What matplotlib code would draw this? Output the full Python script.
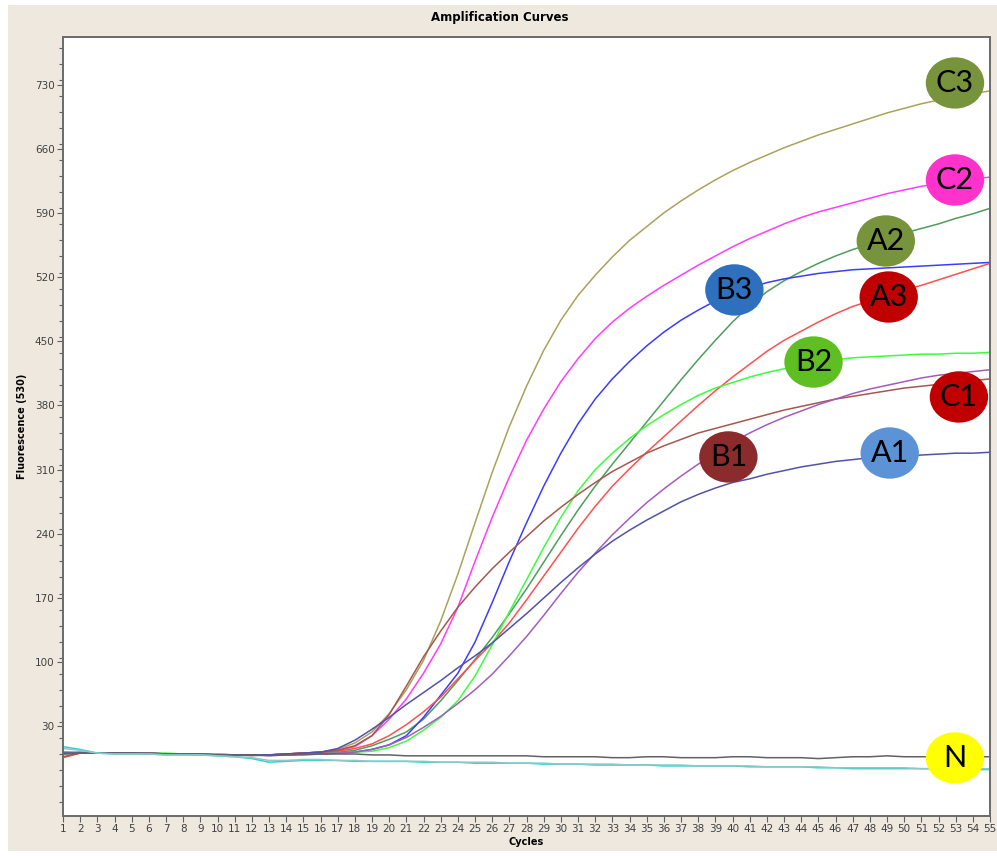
import numpy as np
import matplotlib
matplotlib.use("Agg")
import matplotlib.pyplot as plt
from matplotlib.patches import Ellipse, Rectangle
from matplotlib.ticker import MultipleLocator, FixedLocator

# fluorescence (530) per cycle, cycles 1..55
cycles = np.arange(1, 56)

c3_vals = [2, 2, 1, 1, 1, 0, 0, 0, -1, -1, -1, -2, -1, 0, 1, 2,
           5, 12, 24, 44, 70, 102, 145, 196, 252, 307, 357, 401, 440, 473,
           500, 522, 542, 560, 575, 590, 603, 615, 626, 636, 645, 653, 661,
           668, 675, 681, 687, 693, 699, 704, 709, 713, 717, 720, 723]
c2_vals = [1, 2, 1, 1, 1, 1, 0, 0, 0, -1, -1, -1, -1, 0, 1, 2,
           4, 8, 20, 38, 60, 88, 120, 160, 210, 258, 302, 342, 376, 406,
           431, 453, 471, 486, 499, 511, 522, 533, 543, 553, 562, 570, 578,
           585, 591, 596, 601, 606, 611, 615, 619, 622, 625, 627, 629]
a2_vals = [0, 1, 1, 1, 1, 0, 0, 0, 0, -1, -1, -1, -1, 0, 0, 1,
           2, 4, 9, 16, 24, 38, 58, 80, 103, 127, 153, 180, 209, 238,
           266, 292, 316, 339, 362, 385, 408, 430, 451, 471, 489, 504, 516,
           526, 535, 543, 550, 556, 562, 568, 573, 578, 584, 589, 595]
b3_vals = [2, 1, 1, 1, 1, 1, 0, 0, 0, -1, -1, -1, -1, -1, 0, 0,
           1, 2, 5, 10, 20, 40, 64, 88, 122, 165, 210, 252, 292, 328,
           360, 387, 409, 428, 445, 460, 473, 484, 494, 502, 508, 514, 518,
           521, 524, 526, 528, 529, 530, 531, 532, 533, 534, 535, 536]
a3_vals = [-4, 1, 1, 1, 1, 1, 0, 0, 0, 0, -1, -1, -1, 0, 1, 2,
           3, 6, 11, 20, 32, 46, 62, 82, 102, 121, 143, 168, 194, 220,
           246, 270, 292, 311, 329, 346, 363, 380, 396, 411, 425, 439, 451,
           461, 471, 480, 488, 494, 500, 506, 511, 517, 523, 529, 535]
b2_vals = [2, 1, 1, 1, 1, 1, 1, 0, 0, 0, -1, -1, -1, -1, 0, 0,
           1, 2, 3, 7, 14, 26, 40, 58, 85, 119, 155, 190, 225, 258,
           287, 310, 328, 344, 358, 370, 381, 391, 399, 405, 411, 416, 420,
           424, 427, 430, 432, 433, 434, 435, 436, 436, 437, 437, 438]
c1_vals = [-3, 1, 1, 1, 1, 1, 0, 0, -1, -1, -1, -1, -1, 0, 1, 2,
           4, 9, 20, 43, 74, 106, 134, 160, 182, 202, 220, 237, 254, 269,
           283, 296, 308, 318, 328, 336, 343, 350, 355, 360, 365, 370, 375,
           379, 383, 387, 390, 393, 396, 399, 401, 403, 405, 407, 409]
b1_vals = [1, 1, 1, 1, 1, 1, 0, 0, 0, -1, -1, -1, -1, -1, 0, 0,
           1, 2, 5, 10, 18, 29, 41, 55, 70, 87, 107, 128, 151, 175,
           198, 219, 239, 257, 274, 289, 303, 316, 328, 340, 350, 359, 367,
           374, 381, 387, 393, 398, 402, 406, 410, 413, 415, 417, 419]
a1_vals = [1, 1, 1, 1, 1, 0, 0, 0, 0, -1, -1, -1, -1, 0, 1, 2,
           6, 15, 27, 40, 54, 67, 80, 94, 107, 121, 137, 153, 170, 187,
           203, 218, 232, 244, 255, 265, 275, 283, 290, 296, 300, 305, 309,
           313, 316, 319, 321, 323, 324, 325, 326, 327, 328, 328, 329]
n_vals = [0, 1, 1, 1, 1, 1, 0, 0, 0, -1, -1, -1, -2, -1, -1, 0,
          0, 0, -1, -1, -2, -2, -2, -2, -2, -2, -2, -2, -3, -3,
          -3, -3, -4, -4, -3, -3, -4, -4, -4, -3, -3, -4, -4, -4, -5,
          -4, -3, -3, -2, -3, -3, -3, -3, -3, -3]
ntc1_vals = [8, 5, 1, 0, 0, 0, -1, -1, -1, -2, -3, -5, -9, -8, -7, -7,
             -7, -8, -8, -8, -8, -9, -9, -9, -10, -10, -10, -10, -11, -11,
             -11, -12, -12, -12, -12, -13, -13, -13, -13, -13, -14, -14, -14,
             -14, -15, -15, -16, -16, -16, -16, -16, -16, -17, -17, -17]
ntc2_vals = [6, 4, 1, 0, 0, 0, -1, -1, -1, -2, -3, -4, -7, -7, -6, -6,
             -7, -7, -8, -8, -8, -8, -9, -9, -9, -9, -10, -10, -10, -11,
             -11, -11, -11, -12, -12, -12, -12, -13, -13, -13, -13, -14, -14,
             -14, -14, -15, -15, -15, -15, -15, -16, -16, -16, -16, -16]

sample_names = ["C3", "C2", "A2", "B3", "A3", "B2", "C1", "B1", "A1", "N"]
y_ticks = [30, 100, 170, 240, 310, 380, 450, 520, 590, 660, 730]

series = [
    (c3_vals, "#aaa25c"),
    (c2_vals, "#ff3cff"),
    (a2_vals, "#4e9c5e"),
    (b3_vals, "#3c3cff"),
    (a3_vals, "#ff5050"),
    (b2_vals, "#3cff3c"),
    (c1_vals, "#a4584f"),
    (b1_vals, "#a45cbc"),
    (a1_vals, "#5252a8"),
    (n_vals, "#626262"),
    (ntc1_vals, "#30d0d0"),
    (ntc2_vals, "#8cc8c8"),
]

# tag position (cycle, fluorescence) and fill for each sample
tags = [
    (52.96, 731.7, "#77933c"),
    (52.96, 625.9, "#ff33cc"),
    (48.93, 559.4, "#77933c"),
    (40.11, 506.0, "#2e70bd"),
    (49.10, 498.3, "#c00000"),
    (44.72, 427.4, "#5fbf22"),
    (53.19, 389.3, "#c00000"),
    (39.76, 323.9, "#8c2b2b"),
    (49.16, 328.2, "#5b93d6"),
    (52.96, -4.3, "#ffff00"),
]

fig = plt.figure(figsize=(9.97, 8.56), dpi=100)
fig.patch.set_facecolor("white")
fig.patches.append(Rectangle((8 / 997, 5 / 856), 989 / 997, 846 / 856,
                             transform=fig.transFigure, facecolor="#efe8df",
                             edgecolor="none", zorder=-5))

ax = fig.add_axes([63 / 997, 1 - 816 / 856, 927 / 997, 779 / 856])
ax.set_facecolor("white")

for vals, col in series:
    ax.plot(cycles, vals, color=col, lw=1.1, zorder=2)

for name, (cx, cy, fc) in zip(sample_names, tags):
    ax.add_patch(Ellipse((cx, cy), 3.4, 56, facecolor=fc, edgecolor="none", zorder=5))
    ax.text(cx, cy, name, ha="center", va="center", fontsize=22,
            family="Lato", color="black", zorder=6)

ax.set_xlim(1, 55)
ax.set_ylim(-67.6, 781.8)
ax.xaxis.set_major_locator(FixedLocator(cycles))
ax.yaxis.set_major_locator(FixedLocator(y_ticks))
ax.yaxis.set_minor_locator(MultipleLocator(17.5))
ax.tick_params(axis="both", which="major", direction="out", length=4, width=0.8,
               color="#606060", labelsize=7.5, labelcolor="#404040", pad=2)
ax.tick_params(axis="y", which="minor", direction="out", length=3, width=0.8,
               color="#606060")
for sp in ax.spines.values():
    sp.set_color("#6a6a6a")
    sp.set_linewidth(1.4)

ax.set_xlabel("Cycles", fontsize=7, fontweight="bold", labelpad=2)
ax.set_ylabel("Fluorescence (530)", fontsize=7, fontweight="bold", labelpad=6)
fig.text(0.5015, 1 - 18 / 856, "Amplification Curves", ha="center", va="center",
         fontsize=8.5, fontweight="bold")

fig.savefig("out.png", dpi=100, facecolor=fig.get_facecolor())
